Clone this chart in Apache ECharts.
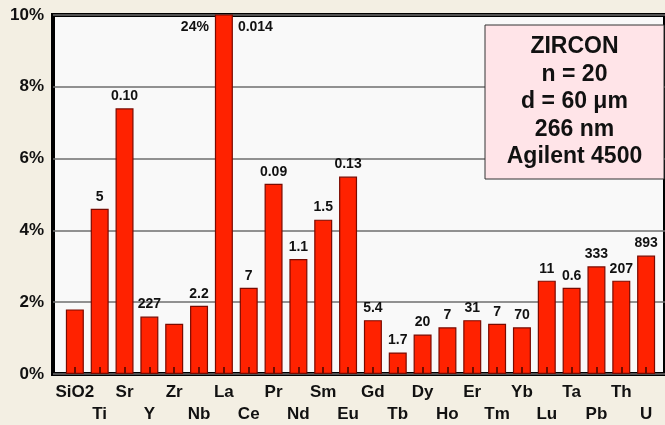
<!DOCTYPE html>
<html>
<head>
<meta charset="utf-8">
<script src="https://cdn.jsdelivr.net/npm/echarts@6/dist/echarts.min.js"></script>
<style>
  html, body { margin: 0; padding: 0; background: #f3efe3; }
  #chart { width: 665px; height: 425px; }
</style>
</head>
<body>
<div id="chart"></div>
<script>
// elements, in the order of the bars
var elements = ['SiO2', 'Ti', 'Sr', 'Y', 'Zr', 'Nb', 'La', 'Ce', 'Pr', 'Nd', 'Sm', 'Eu',
    'Gd', 'Tb', 'Dy', 'Ho', 'Er', 'Tm', 'Yb', 'Lu', 'Ta', 'Pb', 'Th', 'U'];
// RSD in %  (La is off the scale: 24%)
var rsd = [1.8, 4.6, 7.4, 1.6, 1.4, 1.9, 24, 2.4, 5.3, 3.2, 4.3, 5.5,
    1.5, 0.6, 1.1, 1.3, 1.5, 1.4, 1.3, 2.6, 2.4, 3.0, 2.6, 3.3];
// numbers written over the bars
var topLabels = ['', '5', '0.10', '227', '', '2.2', '0.014', '7', '0.09', '1.1', '1.5', '0.13',
    '5.4', '1.7', '20', '7', '31', '7', '70', '11', '0.6', '333', '207', '893'];
var yTicks = [0, 2, 4, 6, 8, 10];
var infoLines = ['ZIRCON', 'n = 20', 'd = 60 \u03bcm', '266 nm', 'Agilent 4500'];

var yMax = 10;
var font = '"Liberation Sans", Arial, sans-serif';

var chart = echarts.init(document.getElementById('chart'));

var idx = elements.map(function (e, i) { return i; });
// names go on two staggered rows
var evenIdx = idx.filter(function (i) { return i % 2 === 0; });
var oddIdx = idx.filter(function (i) { return i % 2 === 1; });

var barData = rsd.map(function (v, i) {
    var item = { value: [i, v] };
    // off scale bar: value on the left, label on the right
    if (v > yMax) {
        item.label = {
            position: 'insideTop',
            distance: 6,
            offset: [3, 0],
            formatter: '{a|' + v + '%}{s|}{b|' + topLabels[i] + '}',
            rich: {
                a: { fontSize: 14, fontWeight: 'bold', fontFamily: font, color: '#111' },
                s: { width: 29 },
                b: { fontSize: 14, fontWeight: 'bold', fontFamily: font, color: '#111' }
            }
        };
    }
    return item;
});

function nameAxis(values, margin) {
    return {
        type: 'value',
        position: 'bottom',
        min: -0.88,
        max: 23.76,
        axisLine: { show: false },
        splitLine: { show: false },
        axisTick: { show: false },
        axisLabel: {
            customValues: values,
            showMinLabel: true,
            showMaxLabel: true,
            margin: margin,
            fontSize: 17,
            fontWeight: 'bold',
            fontFamily: font,
            color: '#111',
            formatter: function (v) { return elements[Math.round(v)]; }
        }
    };
}

var axisA = nameAxis(evenIdx, 10);
axisA.z = 3;
axisA.axisTick = {
    show: true,
    inside: true,
    length: 7,
    customValues: idx,
    lineStyle: { color: '#6e0c00', width: 2 }
};
var axisB = nameAxis(oddIdx, 32);

var option = {
    backgroundColor: '#f3efe3',
    animation: false,
    grid: {
        left: 53,
        right: -4,
        top: 15,
        bottom: 51,
        show: true,
        backgroundColor: '#f9f9f9',
        borderColor: '#000',
        borderWidth: 4
    },
    xAxis: [axisA, axisB],
    yAxis: {
        type: 'value',
        min: yTicks[0],
        max: yTicks[yTicks.length - 1],
        interval: 2,
        axisLine: { show: false },
        axisTick: { show: false },
        splitLine: { show: true, lineStyle: { color: '#6e6e6e', width: 1.5 } },
        axisLabel: {
            margin: 9,
            fontSize: 17,
            fontWeight: 'bold',
            fontFamily: font,
            color: '#111',
            formatter: '{value}%'
        }
    },
    series: [{
        type: 'bar',
        xAxisIndex: 0,
        barWidth: 18,
        clip: true,
        data: barData,
        itemStyle: { color: '#ff2200', borderColor: '#7a0a00', borderWidth: 1.2 },
        label: {
            show: true,
            position: 'top',
            distance: 5,
            fontSize: 14,
            fontWeight: 'bold',
            fontFamily: font,
            color: '#111',
            formatter: function (p) { return topLabels[p.dataIndex]; }
        }
    }],
    graphic: [{
        type: 'rect',
        shape: { x: 485, y: 25, width: 179, height: 154 },
        style: { fill: '#ffe4e8', stroke: '#333', lineWidth: 1 },
        z: 10
    }, {
        type: 'text',
        x: 574.5,
        y: 102,
        z: 11,
        style: {
            text: infoLines.join('\n'),
            align: 'center',
            verticalAlign: 'middle',
            fontSize: 23,
            fontWeight: 'bold',
            fontFamily: font,
            lineHeight: 27.5,
            fill: '#111'
        }
    }]
};

chart.setOption(option);
</script>
</body>
</html>
